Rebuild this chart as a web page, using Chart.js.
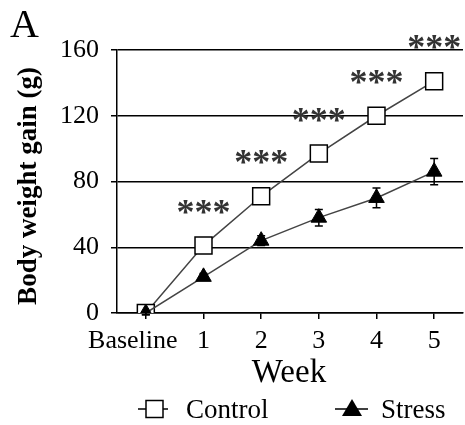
<!DOCTYPE html>
<html>
<head>
<meta charset="utf-8">
<script src="https://cdn.jsdelivr.net/npm/chart.js@4"></script>
<style>
  body { margin: 0; background: #fff; }
  canvas { display: block; }
</style>
</head>
<body>
<canvas id="gainChart" width="465" height="425"></canvas>
<script>
// data
const weeks = ['Baseline', '1', '2', '3', '4', '5'];
const controlGain = [0, 41, 71, 97, 120, 141];
const controlErr = [1, 2, 2, 3, 3, 3];
const stressGain = [0, 22, 44, 58, 70, 86];
const stressErr = [1, 2, 3, 5, 6, 8];
const stars = ['', '***', '***', '***', '***', '***'];
const yTicks = [0, 40, 80, 120, 160];

const serif = '"Liberation Serif", "Times New Roman", serif';

// error bars, drawn under the markers
const errorBars = {
    id: 'errorBars',
    beforeDatasetsDraw(chart) {
        const ctx = chart.ctx;
        const x = chart.scales.x, y = chart.scales.y;
        const sets = [[controlGain, controlErr], [stressGain, stressErr]];
        ctx.save();
        ctx.strokeStyle = '#000';
        ctx.lineWidth = 1.5;
        sets.forEach(([vals, errs]) => {
            vals.forEach((v, i) => {
                const px = x.getPixelForValue(i);
                const top = y.getPixelForValue(v + errs[i]);
                const bot = y.getPixelForValue(v - errs[i]);
                ctx.beginPath();
                ctx.moveTo(px, top); ctx.lineTo(px, bot);
                ctx.moveTo(px - 4, top); ctx.lineTo(px + 4, top);
                ctx.moveTo(px - 4, bot); ctx.lineTo(px + 4, bot);
                ctx.stroke();
            });
        });
        ctx.restore();
    }
};

// labels, asterisks and legend
const annotations = {
    id: 'annotations',
    afterDraw(chart) {
        const ctx = chart.ctx;
        const x = chart.scales.x, y = chart.scales.y;
        ctx.save();
        ctx.fillStyle = '#333';
        ctx.font = 'bold 36px ' + serif;
        ctx.textAlign = 'center';
        ctx.textBaseline = 'alphabetic';
        stars.forEach((s, i) => {
            if (!s) return;
            ctx.fillText(s, x.getPixelForValue(i), y.getPixelForValue(controlGain[i]) - 41 + 19);
        });

        ctx.fillStyle = '#000';
        ctx.textAlign = 'left';
        ctx.font = '40px ' + serif;
        ctx.fillText('A', 10, 37);

        ctx.textAlign = 'center';
        ctx.font = '33px ' + serif;
        ctx.fillText('Week', 289, 382);

        ctx.save();
        ctx.translate(29, 186);
        ctx.rotate(-Math.PI / 2);
        ctx.font = 'bold 27px ' + serif;
        ctx.textBaseline = 'middle';
        ctx.fillText('Body weight gain (g)', 0, 0);
        ctx.restore();

        // legend
        const ly = 409;
        ctx.strokeStyle = '#000';
        ctx.lineWidth = 1.5;
        ctx.beginPath();
        ctx.moveTo(138, ly); ctx.lineTo(168, ly);
        ctx.moveTo(335, ly); ctx.lineTo(368, ly);
        ctx.stroke();
        ctx.fillStyle = '#fff';
        ctx.fillRect(146, ly - 8.5, 17, 17);
        ctx.strokeRect(146, ly - 8.5, 17, 17);
        ctx.fillStyle = '#000';
        ctx.beginPath();
        ctx.moveTo(352, ly - 10); ctx.lineTo(362, ly + 7); ctx.lineTo(342, ly + 7);
        ctx.closePath();
        ctx.fill();
        ctx.font = '27px ' + serif;
        ctx.textAlign = 'left';
        ctx.fillText('Control', 186, 418);
        ctx.fillText('Stress', 381, 418);
        ctx.restore();
    }
};

new Chart(document.getElementById('gainChart'), {
    type: 'line',
    data: {
        labels: weeks,
        datasets: [{
            label: 'Control',
            data: controlGain,
            order: 1,
            borderColor: '#444',
            borderWidth: 1.5,
            pointStyle: 'rect',
            pointRadius: 12,
            pointBackgroundColor: '#fff',
            pointBorderColor: '#000',
            pointBorderWidth: 1.5
        }, {
            label: 'Stress',
            data: stressGain,
            order: 0,
            borderColor: '#444',
            borderWidth: 1.5,
            pointStyle: 'triangle',
            pointRadius: 9,
            pointBackgroundColor: '#000',
            pointBorderColor: '#000',
            pointBorderWidth: 1
        }]
    },
    options: {
        responsive: false,
        devicePixelRatio: 1,
        animation: false,
        layout: { autoPadding: false, padding: { top: 50, left: 0, right: 2, bottom: 0 } },
        plugins: { legend: { display: false }, tooltip: { enabled: false } },
        scales: {
            x: {
                offset: true,
                afterFit: (scale) => {
                    scale.height = 112;
                    scale.paddingLeft = 0;
                    scale.paddingRight = 0;
                },
                grid: { drawOnChartArea: false, color: '#000', lineWidth: 1.5, tickLength: 6 },
                border: { color: '#000', width: 1.5 },
                ticks: {
                    color: '#000',
                    font: { family: serif, size: 26 },
                    padding: 7,
                    maxRotation: 0,
                    autoSkip: false,
                    // the long first label sits left of its point in the figure
                    callback: (v, i) => i === 0 ? weeks[i] + '    ' : weeks[i]
                }
            },
            y: {
                min: yTicks[0],
                max: yTicks[yTicks.length - 1],
                afterFit: (scale) => { scale.width = 117; },
                afterBuildTicks: (scale) => { scale.ticks = yTicks.map(v => ({ value: v })); },
                grid: { color: '#000', lineWidth: 1.5, tickLength: 6 },
                border: { color: '#000', width: 1.5 },
                ticks: { color: '#000', font: { family: serif, size: 26 }, padding: 12 }
            }
        }
    },
    plugins: [errorBars, annotations]
});
</script>
</body>
</html>
